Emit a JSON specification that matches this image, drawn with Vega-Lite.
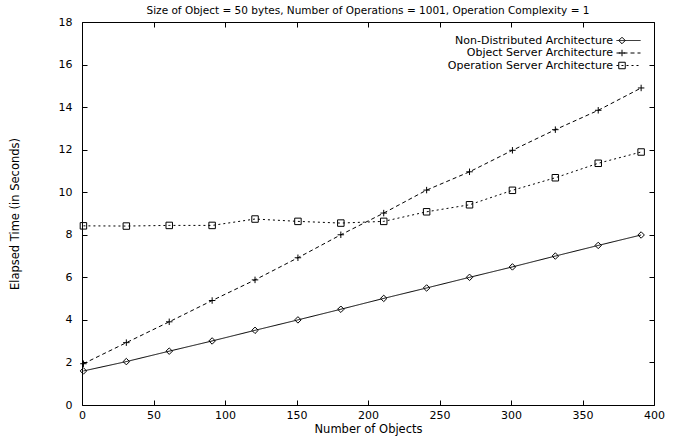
{
  "$schema": "https://vega.github.io/schema/vega-lite/v6.json",
  "width": 572,
  "height": 383,
  "autosize": {"type": "none"},
  "padding": {"left": 82, "top": 22, "right": 24, "bottom": 37},
  "background": "white",
  "config": {
    "font": "DejaVu Sans",
    "view": {"stroke": "black", "strokeWidth": 1},
    "axis": {"grid": false, "domain": false, "labelFont": "DejaVu Sans", "titleFont": "DejaVu Sans", "labelFontSize": 11, "titleFontSize": 11.5, "titleFontWeight": "normal", "labelColor": "black", "titleColor": "black", "tickColor": "black", "tickSize": -5, "tickWidth": 1},
    "legend": {"labelFont": "DejaVu Sans", "labelFontSize": 11, "labelColor": "black", "labelLimit": 400}
  },
  "title": {"text": "Size of Object = 50 bytes, Number of Operations = 1001, Operation Complexity = 1", "fontSize": 10.5, "fontWeight": "normal", "font": "DejaVu Sans", "color": "black", "anchor": "middle", "offset": 0},
  "data": {"values": [
    {"n": 1, "series": "Non-Distributed Architecture", "t": 1.6},
    {"n": 31, "series": "Non-Distributed Architecture", "t": 2.04},
    {"n": 61, "series": "Non-Distributed Architecture", "t": 2.53},
    {"n": 91, "series": "Non-Distributed Architecture", "t": 3.01},
    {"n": 121, "series": "Non-Distributed Architecture", "t": 3.51},
    {"n": 151, "series": "Non-Distributed Architecture", "t": 4.0},
    {"n": 181, "series": "Non-Distributed Architecture", "t": 4.5},
    {"n": 211, "series": "Non-Distributed Architecture", "t": 5.01},
    {"n": 241, "series": "Non-Distributed Architecture", "t": 5.5},
    {"n": 271, "series": "Non-Distributed Architecture", "t": 6.0},
    {"n": 301, "series": "Non-Distributed Architecture", "t": 6.49},
    {"n": 331, "series": "Non-Distributed Architecture", "t": 7.0},
    {"n": 361, "series": "Non-Distributed Architecture", "t": 7.5},
    {"n": 391, "series": "Non-Distributed Architecture", "t": 7.99},
    {"n": 1, "series": "Object Server Architecture", "t": 1.94},
    {"n": 31, "series": "Object Server Architecture", "t": 2.93},
    {"n": 61, "series": "Object Server Architecture", "t": 3.91},
    {"n": 91, "series": "Object Server Architecture", "t": 4.91},
    {"n": 121, "series": "Object Server Architecture", "t": 5.88},
    {"n": 151, "series": "Object Server Architecture", "t": 6.92},
    {"n": 181, "series": "Object Server Architecture", "t": 8.0},
    {"n": 211, "series": "Object Server Architecture", "t": 9.02},
    {"n": 241, "series": "Object Server Architecture", "t": 10.1},
    {"n": 271, "series": "Object Server Architecture", "t": 10.96},
    {"n": 301, "series": "Object Server Architecture", "t": 11.97},
    {"n": 331, "series": "Object Server Architecture", "t": 12.94},
    {"n": 361, "series": "Object Server Architecture", "t": 13.85},
    {"n": 391, "series": "Object Server Architecture", "t": 14.9},
    {"n": 1, "series": "Operation Server Architecture", "t": 8.42},
    {"n": 31, "series": "Operation Server Architecture", "t": 8.41},
    {"n": 61, "series": "Operation Server Architecture", "t": 8.44},
    {"n": 91, "series": "Operation Server Architecture", "t": 8.44},
    {"n": 121, "series": "Operation Server Architecture", "t": 8.74},
    {"n": 151, "series": "Operation Server Architecture", "t": 8.63},
    {"n": 181, "series": "Operation Server Architecture", "t": 8.55},
    {"n": 211, "series": "Operation Server Architecture", "t": 8.63},
    {"n": 241, "series": "Operation Server Architecture", "t": 9.08},
    {"n": 271, "series": "Operation Server Architecture", "t": 9.41},
    {"n": 301, "series": "Operation Server Architecture", "t": 10.09},
    {"n": 331, "series": "Operation Server Architecture", "t": 10.68},
    {"n": 361, "series": "Operation Server Architecture", "t": 11.36},
    {"n": 391, "series": "Operation Server Architecture", "t": 11.89}
  ]},
  "layer": [
    {
      "mark": {"type": "line", "color": "black", "strokeWidth": 1},
      "encoding": {
        "x": {"field": "n", "type": "quantitative", "scale": {"domain": [0, 400], "nice": false},
              "axis": {"orient": "bottom", "values": [0, 50, 100, 150, 200, 250, 300, 350, 400], "title": "Number of Objects", "labelPadding": 9, "titlePadding": 3, "labelFlush": false}},
        "y": {"field": "t", "type": "quantitative", "scale": {"domain": [0, 18], "nice": false},
              "axis": {"orient": "left", "values": [0, 2, 4, 6, 8, 10, 12, 14, 16, 18], "title": "Elapsed Time (in Seconds)", "labelPadding": 15, "titlePadding": 38, "labelFlush": false}},
        "strokeDash": {"field": "series", "type": "nominal",
              "scale": {"domain": ["Non-Distributed Architecture", "Object Server Architecture", "Operation Server Architecture"], "range": [[1, 0], [4, 3], [2, 3]]},
              "legend": {"orient": "none", "legendX": 530, "legendY": 13, "title": null, "symbolType": "M-4,0L4,0", "symbolSize": 36, "symbolStrokeColor": "black", "symbolStrokeWidth": 1, "labelAlign": "right", "labelOffset": -21, "symbolOffset": 11, "rowPadding": 0.5}}
      }
    },
    {
      "mark": {"type": "point", "filled": false, "stroke": "black", "strokeWidth": 1, "size": 42, "opacity": 1},
      "encoding": {
        "x": {"field": "n", "type": "quantitative",
              "axis": {"orient": "top", "values": [0, 50, 100, 150, 200, 250, 300, 350, 400], "labels": false, "title": null}},
        "y": {"field": "t", "type": "quantitative",
              "axis": {"orient": "right", "values": [0, 2, 4, 6, 8, 10, 12, 14, 16, 18], "labels": false, "title": null}},
        "shape": {"field": "series", "type": "nominal",
              "scale": {"range": ["diamond", "M-1,0L1,0M0,-1L0,1", "square"]},
              "legend": {"orient": "none", "legendX": 530, "legendY": 13, "title": null, "symbolSize": 42, "symbolStrokeColor": "black", "symbolStrokeWidth": 1, "symbolFillColor": "white", "symbolOffset": 4.5, "labelExpr": "''", "labelAlign": "right", "labelOffset": -21, "rowPadding": 0.5}}
      }
    }
  ],
  "resolve": {"axis": {"x": "independent", "y": "independent"}}
}
